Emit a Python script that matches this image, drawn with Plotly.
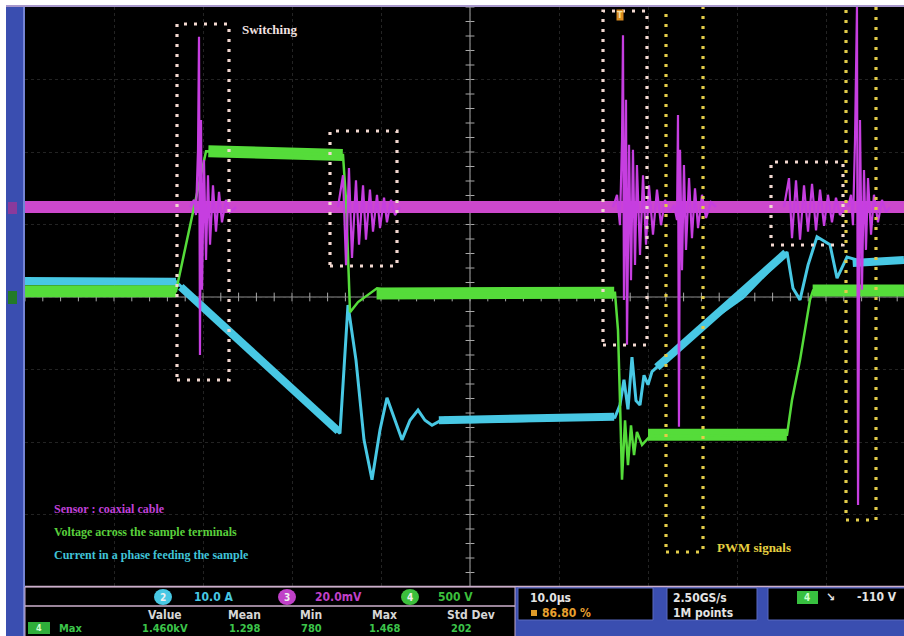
import plotly.graph_objects as go

# ---------------- waveforms ----------------
# time in µs from the left edge of the screen (10 µs/div), amplitude in divisions

# channel 4 (green): voltage across the sample terminals
GREEN_T = [0.0, 16.97, 20.34, 25.28, 35.73, 36.07, 36.52, 37.42, 39.55, 42.13,
           66.29, 66.63, 66.85, 67.08, 67.42, 67.75, 68.09, 68.43, 68.76, 69.33,
           70.22, 85.62, 86.18, 87.08, 88.20, 88.54, 98.76]
GREEN_V = [0.08, 0.08, 2.01, 2.00, 1.96, 1.34, -0.21, -0.07, 0.12, 0.05,
           0.06, -0.46, -1.42, -2.52, -1.70, -2.32, -1.77, -2.18, -1.86, -2.04,
           -1.92, -1.90, -1.42, -0.87, -0.04, 0.09, 0.09]
# settled plateaus of the green trace (drawn as a wide band)
GREEN_BAND_T0 = [0.0, 20.6, 39.5, 70.0, 88.5]
GREEN_BAND_T1 = [16.97, 35.7, 66.2, 85.6, 98.76]
GREEN_BAND_V0 = [0.08, 2.01, 0.05, -1.90, 0.09]
GREEN_BAND_V1 = [0.08, 1.96, 0.06, -1.90, 0.09]

# channel 2 (cyan): current in a phase feeding the sample
CYAN_T = [0.0, 16.97, 35.39, 36.29, 37.19, 38.09, 38.99, 39.89, 40.67, 41.57,
          42.36, 43.26, 44.16, 44.94, 45.73, 47.19, 50.00, 57.87, 66.29, 66.85,
          67.30, 67.75, 68.20, 68.65, 69.10, 69.55, 70.00, 70.45, 75.84, 80.67,
          85.62, 86.29, 87.08, 87.98, 88.99, 90.45, 91.24, 92.36, 94.94, 98.76]
CYAN_V = [0.22, 0.21, -1.88, -0.11, -0.87, -1.97, -2.52, -1.83, -1.39, -1.70,
          -1.97, -1.70, -1.56, -1.70, -1.77, -1.67, -1.72, -1.70, -1.66, -1.49,
          -1.14, -1.55, -0.83, -1.43, -1.49, -1.08, -1.21, -1.03, -0.43, -0.01,
          0.62, 0.12, -0.04, 0.44, 0.83, 0.72, 0.26, 0.55, 0.46, 0.51]
CYAN_BAND_T0 = [0.0, 17.5, 46.5, 71.0, 93.0]
CYAN_BAND_T1 = [16.97, 35.2, 66.2, 85.5, 98.76]
CYAN_BAND_V0 = [0.22, 0.14, -1.70, -0.97, 0.47]
CYAN_BAND_V1 = [0.21, -1.85, -1.65, 0.61, 0.51]

# channel 3 (magenta): coaxial-cable sensor, baseline plus switching bursts
MAGENTA_BASE = 1.24
MAG_BURST1_T = [18.54, 18.99, 19.21, 19.44, 19.55, 19.66, 19.78, 19.89, 20.11, 20.34,
                20.56, 20.79, 21.12, 21.46, 21.80, 22.13, 22.58, 23.03, 23.71]
MAG_BURST1_V = [1.24, 1.34, 1.13, 2.03, 3.59, -0.80, 2.44, 0.10, 1.89, 0.51,
                1.68, 0.72, 1.54, 0.90, 1.45, 1.03, 1.34, 1.17, 1.24]
MAG_BURST2_T = [35.17, 35.73, 36.07, 36.40, 36.74, 37.19, 37.53, 37.98, 38.31, 38.76,
                39.10, 39.55, 39.89, 40.34, 40.67, 41.12, 41.57, 42.13]
MAG_BURST2_V = [1.24, 1.68, 0.44, 1.78, 0.54, 1.61, 0.72, 1.54, 0.79, 1.48,
                0.90, 1.41, 0.95, 1.37, 1.03, 1.34, 1.13, 1.24]
MAG_BURST3_T = [66.07, 66.52, 66.85, 67.08, 67.19, 67.30, 67.53, 67.64, 67.87, 68.09,
                68.31, 68.54, 68.76, 69.10, 69.44, 69.78, 70.11, 70.56, 71.01, 71.46,
                71.91, 72.47, 72.92, 73.26, 73.37, 73.48, 73.60, 73.82, 74.04, 74.27,
                74.61, 74.94, 75.28, 75.62, 76.07, 76.52, 77.08, 77.64]
MAG_BURST3_V = [1.24, 1.41, 0.99, 2.17, 3.61, -0.04, 2.72, -0.66, 2.10, 0.23,
                2.03, 0.44, 1.82, 0.58, 1.68, 0.72, 1.54, 0.86, 1.48, 0.99,
                1.34, 1.17, 1.27, 1.06, 2.51, -1.79, 2.03, 0.37, 1.82, 0.65,
                1.64, 0.81, 1.50, 0.95, 1.41, 1.09, 1.31, 1.24]
MAG_BURST4_T = [85.28, 85.84, 86.18, 86.63, 87.08, 87.53, 87.98, 88.43, 88.88, 89.33,
                89.78, 90.22, 90.67, 91.12, 91.57, 92.13]
MAG_BURST4_V = [1.24, 1.64, 0.81, 1.61, 0.79, 1.54, 0.90, 1.56, 0.92, 1.48,
                0.98, 1.41, 1.03, 1.37, 1.13, 1.24]
MAG_BURST5_T = [92.47, 92.81, 93.03, 93.26, 93.48, 93.60, 93.82, 94.04, 94.27, 94.49,
                94.72, 95.06, 95.39, 95.84, 96.29, 96.74, 97.19]
MAG_BURST5_V = [1.24, 1.41, 0.99, 2.17, 4.00, -2.87, 2.44, 0.10, 1.75, 0.65,
                1.64, 0.86, 1.41, 1.03, 1.34, 1.17, 1.24]

# readout texts
CH_SCALES = [("2", "10.0 A"), ("3", "20.0mV"), ("4", "500 V")]
MEAS_HEADERS = ["Value", "Mean", "Min", "Max", "Std Dev"]
MEAS_VALUES = ["1.460kV", "1.298", "780", "1.468", "202"]
TIMEBASE = "10.0µs"
TRIG_POS = "86.80 %"
SAMPLE_RATE = "2.50GS/s"
RECORD_LEN = "1M points"
TRIG_LEVEL = "-110 V"

# ---------------- geometry ----------------
W, H = 904, 636
ML, MR, MT, MB = 25, 0, 7, 50
PW, PH = W - ML - MR, H - MT - MB
X_RANGE = [0, PW / 8.9]
Y_RANGE = [-(H - MB - 297) / 72.5, (297 - MT) / 72.5]

GREEN = "#55dc3a"
CYAN = "#48c8e4"
MAGENTA = "#cc48cc"
MAG_SPIKE = "#c63ee0"
BLUE = "#3a4eb0"
SERIF = "Liberation Serif"
UI = "DejaVu Sans Condensed, DejaVu Sans, sans-serif"


def fx(x):
    return (x - ML) / PW


def fy(y):
    return (H - MB - y) / PH


def band(t0s, t1s, v0s, v1s):
    xs, ys = [], []
    for a, b, c, d in zip(t0s, t1s, v0s, v1s):
        xs += [a, b, None]
        ys += [c, d, None]
    return xs, ys


fig = go.Figure()

def line(x, y, color, width):
    fig.add_trace(go.Scatter(x=x, y=y, mode="lines", hoverinfo="skip",
                             line=dict(color=color, width=width),
                             showlegend=False))

# magenta baseline band
line([X_RANGE[0], X_RANGE[1]], [MAGENTA_BASE, MAGENTA_BASE], MAGENTA, 12)
# cyan
bx, by = band(CYAN_BAND_T0, CYAN_BAND_T1, CYAN_BAND_V0, CYAN_BAND_V1)
line(bx, by, CYAN, 8)
line(CYAN_T, CYAN_V, CYAN, 3)
# green
bx, by = band(GREEN_BAND_T0, GREEN_BAND_T1, GREEN_BAND_V0, GREEN_BAND_V1)
line(bx, by, GREEN, 12)
line(GREEN_T, GREEN_V, GREEN, 2.5)
# magenta bursts
for bt, bv in [(MAG_BURST1_T, MAG_BURST1_V), (MAG_BURST2_T, MAG_BURST2_V),
               (MAG_BURST3_T, MAG_BURST3_V), (MAG_BURST4_T, MAG_BURST4_V),
               (MAG_BURST5_T, MAG_BURST5_V)]:
    line(bt, bv, MAG_SPIKE, 2.2)

shapes = []

# graticule centre cross with minor ticks
shapes.append(dict(type="line", xref="x", yref="y", x0=50, x1=50,
                   y0=Y_RANGE[0], y1=Y_RANGE[1], line=dict(color="#a8a8a8", width=1),
                   layer="below"))
shapes.append(dict(type="line", xref="x", yref="y", x0=X_RANGE[0], x1=X_RANGE[1],
                   y0=0, y1=0, line=dict(color="#8c8c8c", width=1), layer="below"))
path = ""
for k in range(0, 50):
    t = 2 * k
    path += f"M{t},-0.06 L{t},0.06 "
for k in range(-20, 21):
    v = 0.2 * k
    path += f"M49.5,{v:.2f} L50.5,{v:.2f} "
shapes.append(dict(type="path", xref="x", yref="y", path=path,
                   line=dict(color="#a8a8a8", width=1), layer="below"))

# dotted boxes (pixel corners converted to data units)
def tx(x):
    return (x - ML) / 8.9


def vy(y):
    return (297 - y) / 72.5


WHITE_DOTS = dict(color="#f2d8d0", width=3.2, dash="3px,7px")
YELLOW_DOTS = dict(color="#e2cc4a", width=3.2, dash="3px,7px")
for x0, x1, y0, y1 in [(177, 229, 24, 380), (330, 397, 131, 266),
                       (603, 647, 11, 345), (771, 843, 162, 245)]:
    shapes.append(dict(type="rect", xref="x", yref="y", x0=tx(x0), x1=tx(x1),
                       y0=vy(y1), y1=vy(y0), line=WHITE_DOTS))
for x0, x1, y1 in [(666, 703, 552), (846, 876, 520)]:
    shapes.append(dict(type="rect", xref="x", yref="y", x0=tx(x0), x1=tx(x1),
                       y0=vy(y1), y1=vy(0), line=YELLOW_DOTS))

# frame: top rule, left blue strip, bottom readout panel
shapes.append(dict(type="rect", xref="paper", yref="paper", x0=fx(6), x1=fx(25),
                   y0=fy(636), y1=fy(5), fillcolor=BLUE, line=dict(width=0)))
shapes.append(dict(type="line", xref="paper", yref="paper", x0=fx(24), x1=fx(24),
                   y0=fy(636), y1=fy(6), line=dict(color="#7484d4", width=2)))
shapes.append(dict(type="line", xref="paper", yref="paper", x0=fx(6), x1=fx(904),
                   y0=fy(6), y1=fy(6), line=dict(color="#a898cc", width=2)))
shapes.append(dict(type="rect", xref="paper", yref="paper", x0=fx(25), x1=fx(904),
                   y0=fy(636), y1=fy(586), fillcolor=BLUE, line=dict(width=0)))

def box(x0, x1, y0, y1, rule="#c4a8c4"):
    shapes.append(dict(type="rect", xref="paper", yref="paper", x0=fx(x0), x1=fx(x1),
                       y0=fy(y1), y1=fy(y0), fillcolor="black",
                       line=dict(color=rule, width=1)))

box(25, 515, 587, 640)
box(518, 653, 588, 620, "#5868c0")
box(667, 757, 588, 620, "#5868c0")
box(768, 910, 588, 620, "#5868c0")
shapes.append(dict(type="line", xref="paper", yref="paper", x0=fx(25), x1=fx(904),
                   y0=fy(586.5), y1=fy(586.5), line=dict(color="#cdb0cc", width=1.5)))
shapes.append(dict(type="line", xref="paper", yref="paper", x0=fx(25), x1=fx(515),
                   y0=fy(606), y1=fy(606), line=dict(color="#cdb0cc", width=1.5)))

# channel badges in the readout row
BADGE_COL = {"2": CYAN, "3": "#c040c8", "4": "#3cbf3c"}
badge_x = {"2": 163, "3": 287, "4": 410}
for ch, _ in CH_SCALES:
    cx = badge_x[ch]
    shapes.append(dict(type="circle", xref="paper", yref="paper",
                       x0=fx(cx - 9), x1=fx(cx + 9), y0=fy(605), y1=fy(589),
                       fillcolor=BADGE_COL[ch], line=dict(width=0)))
# channel 4 badge for measurement row and trigger source
shapes.append(dict(type="rect", xref="paper", yref="paper", x0=fx(28), x1=fx(50),
                   y0=fy(634), y1=fy(622), fillcolor="#2fae3a", line=dict(width=0)))
shapes.append(dict(type="rect", xref="paper", yref="paper", x0=fx(797), x1=fx(818),
                   y0=fy(604), y1=fy(591), fillcolor="#38c040", line=dict(width=0)))
shapes.append(dict(type="rect", xref="paper", yref="paper", x0=fx(531), x1=fx(537),
                   y0=fy(616), y1=fy(610), fillcolor="#e09a28", line=dict(width=0)))
# left-edge ground markers
shapes.append(dict(type="rect", xref="paper", yref="paper", x0=fx(8), x1=fx(17),
                   y0=fy(304), y1=fy(291), fillcolor="#237a28", line=dict(width=0)))
shapes.append(dict(type="rect", xref="paper", yref="paper", x0=fx(8), x1=fx(17),
                   y0=fy(214), y1=fy(202), fillcolor="#8a3a9c", line=dict(width=0)))

ann = []

def text_data(s, t, v, color, size, family=SERIF, anchor="left"):
    ann.append(dict(text=f"<b>{s}</b>", x=t, y=v, xref="x", yref="y",
                    showarrow=False, xanchor=anchor, yanchor="middle",
                    font=dict(family=family, size=size, color=color)))


def text_px(s, x, y, color, size=12, anchor="left", bold=True):
    ann.append(dict(text=f"<b>{s}</b>" if bold else s, x=fx(x), y=fy(y),
                    xref="paper", yref="paper", showarrow=False, xanchor=anchor,
                    yanchor="middle", font=dict(family=UI, size=size, color=color)))

text_data("Switching", tx(240), vy(29), "#f2e2e0", 13)
text_data("Sensor : coaxial cable", tx(52), vy(509), "#c040d8", 12)
text_data("Voltage across the sample terminals", tx(52), vy(532), "#5ad03c", 12)
text_data("Current in a phase feeding the sample", tx(52), vy(555), "#40c4d8", 12)
text_data("PWM signals", tx(715), vy(547), "#e6d040", 13)

# trigger position marker
ann.append(dict(text="<b>T</b>", x=tx(620), y=vy(15), xref="x", yref="y",
                showarrow=False, bgcolor="#d88a20", borderpad=0,
                font=dict(family=UI, size=9, color="#f8e0a0")))

# readout row
scale_x = {"2": 192, "3": 313, "4": 436}
for ch, s in CH_SCALES:
    text_px(ch, badge_x[ch], 597, "#f0f0f0", 10, "center")
    text_px(s, scale_x[ch], 597, BADGE_COL[ch], 12)
col_x = [165, 244, 311, 384, 471]
for h, cx in zip(MEAS_HEADERS, col_x):
    text_px(h, cx, 615, "#d6d6d6", 12, "center")
for v, cx in zip(MEAS_VALUES, col_x):
    text_px(v, cx - (10 if v == "202" else 0), 628, "#3cc44a", 11, "center")
text_px("4", 39, 628, "#d0ffd0", 9, "center")
text_px("Max", 57, 628, "#3cc44a", 11)
text_px(TIMEBASE, 528, 598, "#e4e4e4", 12)
text_px(TRIG_POS, 540, 613, "#e8a030", 12)
text_px(SAMPLE_RATE, 671, 598, "#e4e4e4", 12)
text_px(RECORD_LEN, 671, 613, "#e4e4e4", 12)
text_px("4", 807, 597, "#d0ffd0", 10, "center")
text_px("↘", 830, 597, "#e4e4e4", 12, "center")
text_px(TRIG_LEVEL, 855, 597, "#e4e4e4", 12)

fig.update_layout(
    width=W, height=H,
    margin=dict(l=ML, r=MR, t=MT, b=MB, pad=0),
    paper_bgcolor="white", plot_bgcolor="black",
    showlegend=False,
    xaxis=dict(range=X_RANGE, tick0=0, dtick=10, showgrid=True,
               gridcolor="rgba(100,100,100,0.35)", griddash="dot", gridwidth=1,
               zeroline=False, showticklabels=False, ticks="", showline=False,
               fixedrange=True),
    yaxis=dict(range=Y_RANGE, tick0=0, dtick=1, showgrid=True,
               gridcolor="rgba(100,100,100,0.35)", griddash="dot", gridwidth=1,
               zeroline=False, showticklabels=False, ticks="", showline=False,
               fixedrange=True),
    shapes=shapes,
    annotations=ann,
)

fig.write_html("out.html", config={"displayModeBar": False})
